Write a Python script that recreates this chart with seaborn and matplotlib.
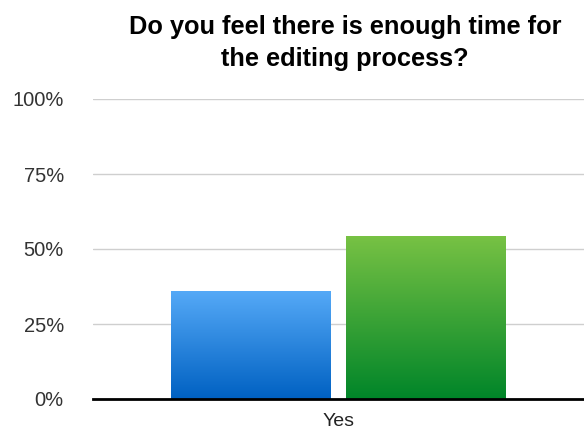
import numpy as np
import pandas as pd
import matplotlib
matplotlib.use("Agg")
import matplotlib.pyplot as plt
from matplotlib.colors import LinearSegmentedColormap
import seaborn as sns

# Survey answers: share of respondents per group
categories = ["Yes"]
groups = ["Group A", "Group B"]
values = [36.0, 54.5]
y_ticks = [0, 25, 50, 75, 100]
y_tick_labels = ["0%", "25%", "50%", "75%", "100%"]
title = "Do you feel there is enough time for\nthe editing process?"

# Top/bottom colours of each bar's vertical gradient
gradients = {
    "Group A": ("#55a9f7", "#0061c2"),
    "Group B": ("#78c244", "#008529"),
}

df = pd.DataFrame({
    "category": categories * len(groups),
    "group": groups,
    "value": values,
})

sns.set_theme(style="white")
plt.rcParams["font.family"] = ["Liberation Sans", "DejaVu Sans"]

fig = plt.figure(figsize=(5.84, 4.30), dpi=100)
ax = fig.add_axes([93 / 584, 1 - 399 / 430, 1 - 93 / 584, (399 - 99) / 430])

palette = {g: gradients[g][1] for g in groups}
sns.barplot(data=df, x="category", y="value", hue="group", palette=palette,
            width=0.8, gap=0.086, legend=False, ax=ax, zorder=3)

# Replace the flat fills with vertical gradients clipped to each bar
ramp = np.linspace(0, 1, 256).reshape(-1, 1)
bars = [p for p in ax.patches]
for patch, g in zip(bars, groups):
    top, bottom = gradients[g]
    cmap = LinearSegmentedColormap.from_list(g, [bottom, top])
    x0, y0 = patch.get_x(), patch.get_y()
    w, h = patch.get_width(), patch.get_height()
    im = ax.imshow(ramp, cmap=cmap, aspect="auto", origin="lower",
                   extent=[x0, x0 + w, y0, y0 + h], zorder=3,
                   interpolation="bilinear")
    im.set_clip_path(patch)
    patch.set_facecolor("none")
    patch.set_edgecolor("none")

ax.set_xlim(-0.56, 0.562)
ax.set_ylim(0, 100)
ax.set_yticks(y_ticks)
ax.set_yticklabels(y_tick_labels)
ax.set_xlabel("")
ax.set_ylabel("")

ax.yaxis.grid(True, color="#cfcfcf", linewidth=1.0, zorder=0)
ax.xaxis.grid(False)
ax.set_axisbelow(True)
for side in ["left", "right", "top"]:
    ax.spines[side].set_visible(False)
ax.spines["bottom"].set_color("#000000")
ax.spines["bottom"].set_linewidth(2.0)
ax.spines["bottom"].set_zorder(5)

ax.tick_params(axis="y", length=0, pad=21, labelsize=14.5, labelcolor="#333333")
ax.tick_params(axis="x", length=0, pad=10, labelsize=14, labelcolor="#222222")

fig.text(345 / 584, 1 - 43 / 430, title, ha="center", va="center",
         fontsize=18.3, fontweight="bold", color="#000000", linespacing=1.42)

fig.savefig("out.png", dpi=100)
